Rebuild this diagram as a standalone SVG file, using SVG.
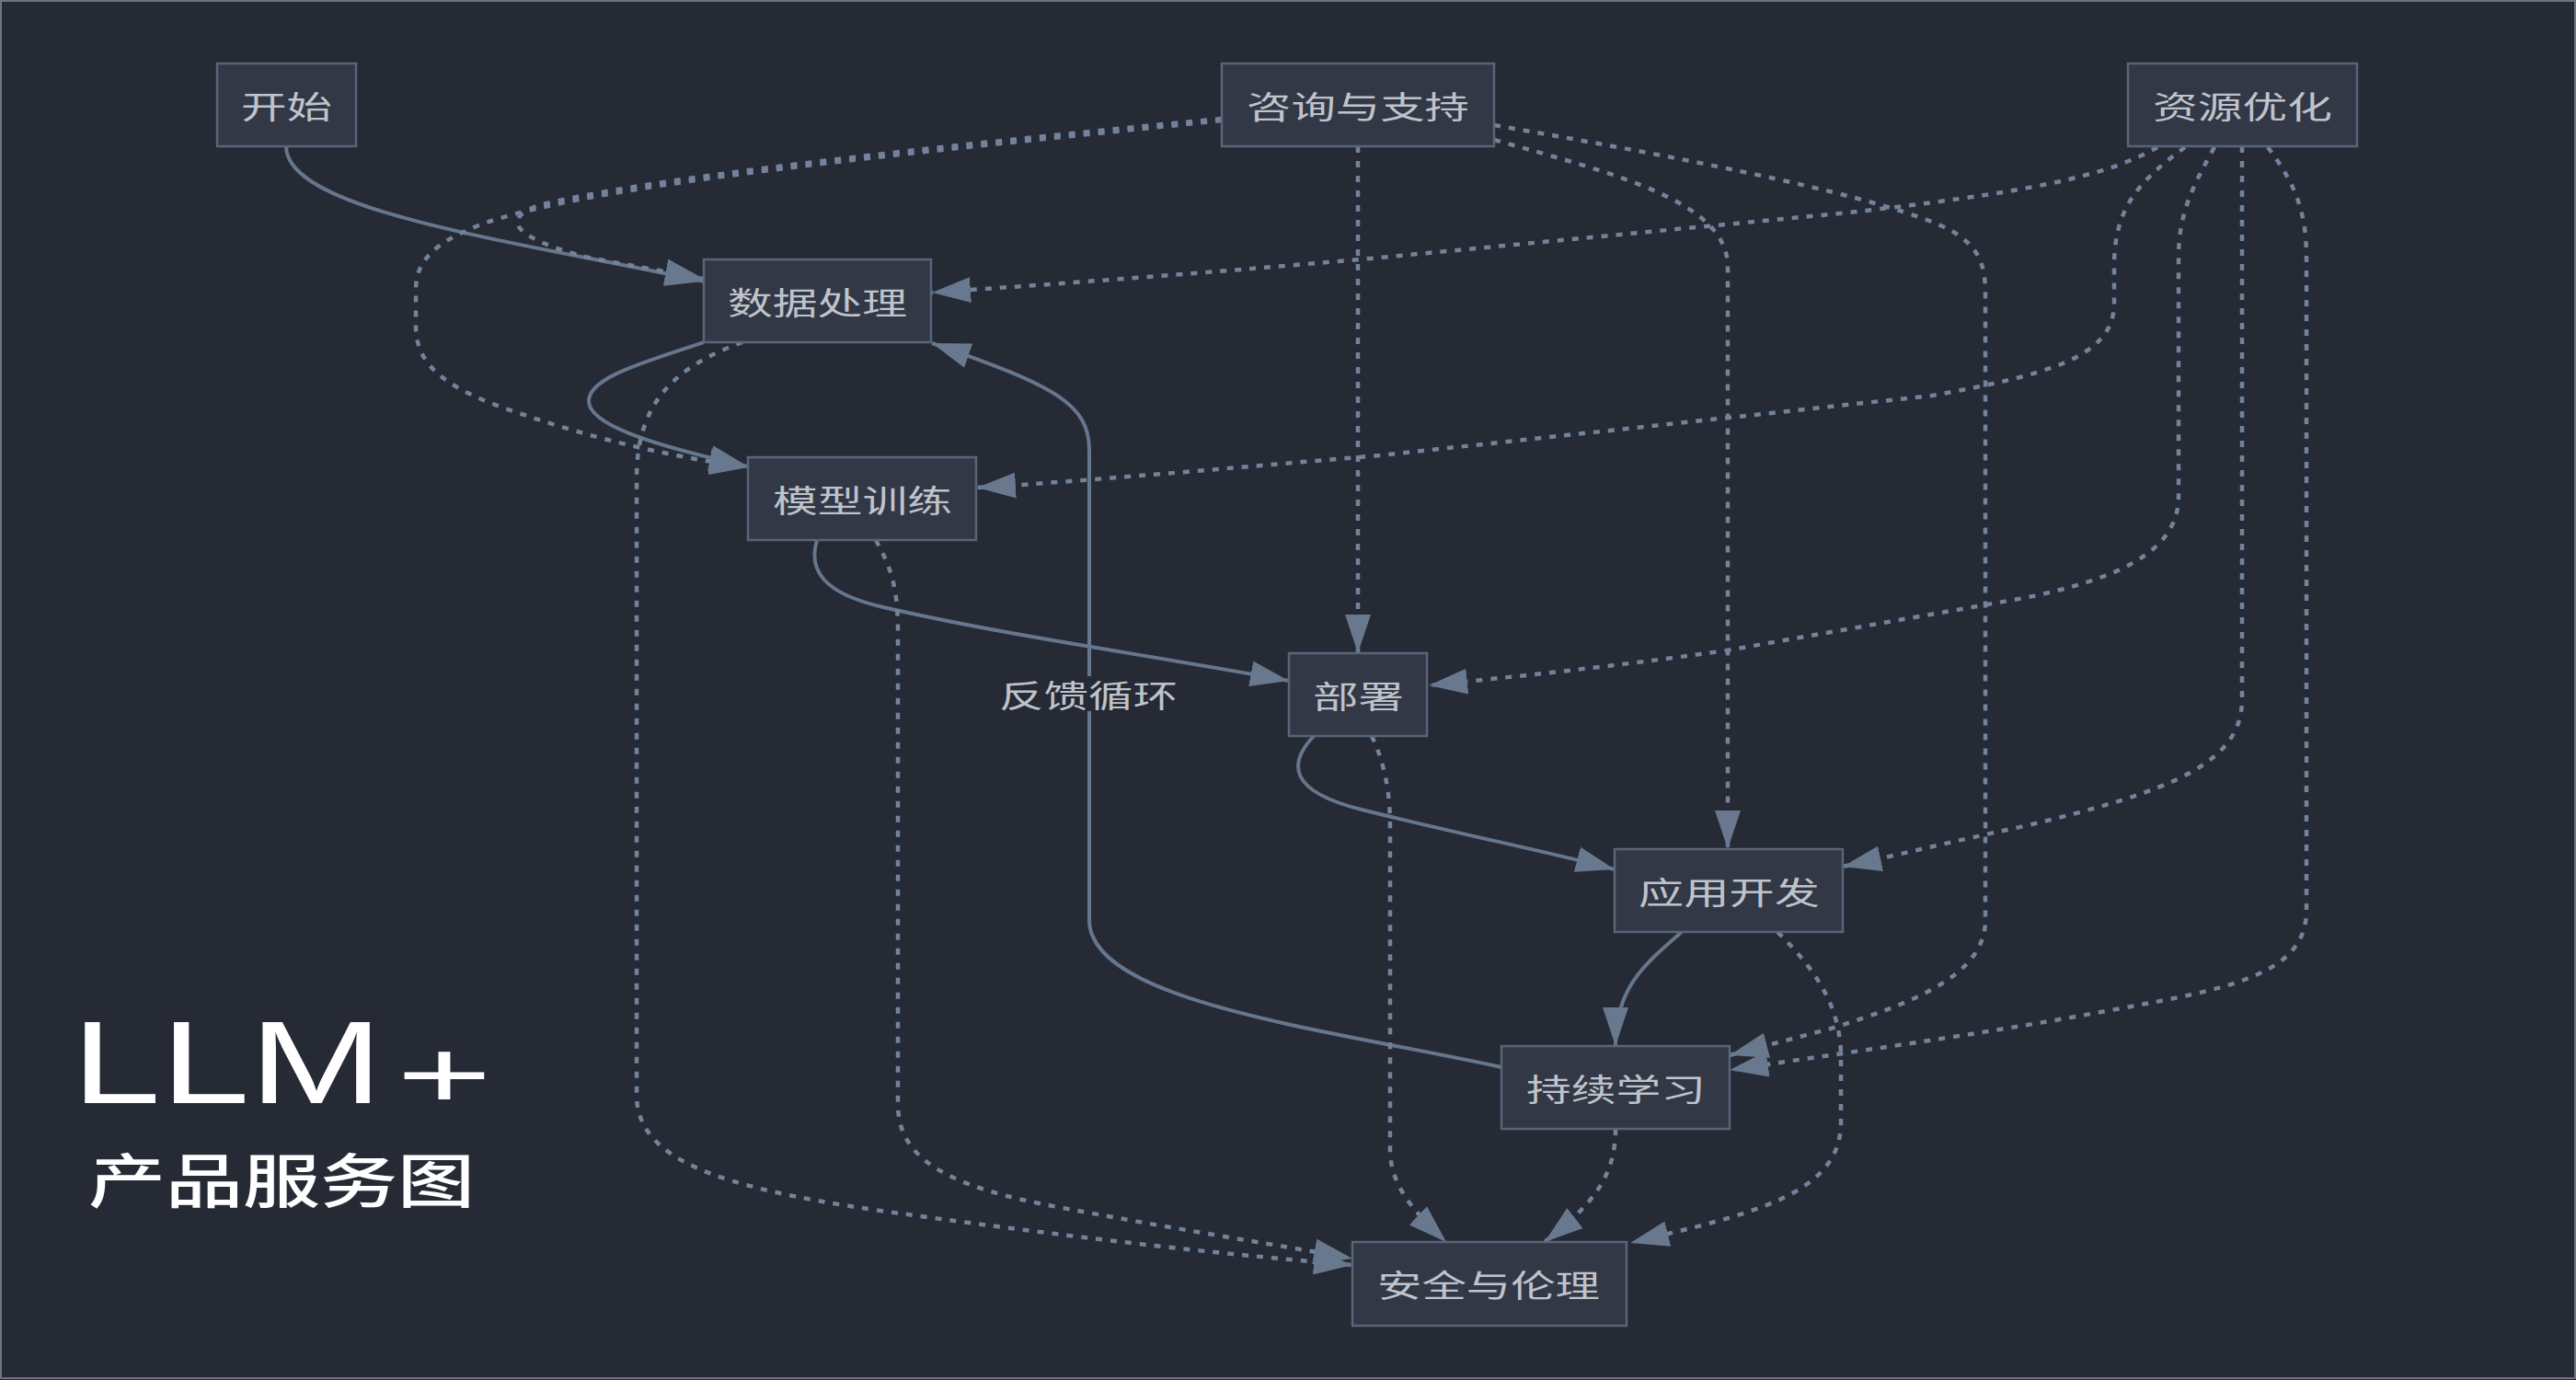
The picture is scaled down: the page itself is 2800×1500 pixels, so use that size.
<svg xmlns="http://www.w3.org/2000/svg" width="2800" height="1500" viewBox="0 0 2800 1500">
<style>
.bg{fill:#252a34}
.node rect{fill:#323845;stroke:#5a6579;stroke-width:2.5}
.node text,.lbl{font-family:"Noto Sans CJK SC","Noto Sans",sans-serif;font-size:34px;fill:#bfc3cb;dominant-baseline:central}
.e{fill:none;stroke:#66768d;stroke-width:4}
.d{stroke:#73839b;stroke-width:4.5;stroke-dasharray:7 9}
</style>
<defs>
<marker id="ah" viewBox="0 0 42 28" refX="42" refY="14" markerWidth="42" markerHeight="28" markerUnits="userSpaceOnUse" orient="auto">
<path d="M0,0 L42,14 L0,28 Z" fill="#68788f"/>
</marker>
</defs>
<rect class="bg" x="0" y="0" width="2800" height="1500"/>
<rect x="1" y="1" width="2798" height="1497" fill="none" stroke="#6f7480" stroke-width="2"/>

<g id="connectors">
<!-- solid -->
<path class="e" marker-end="url(#ah)" d="M311,159 C311,230 560,262 765,306"/>
<path class="e" marker-end="url(#ah)" d="M765,372 C700,394 640,410 640,436 C640,460 700,482 813,507"/>
<path class="e" marker-end="url(#ah)" d="M888,587 C878,620 895,645 960,660 C1100,692 1250,712 1401,740"/>
<path class="e" marker-end="url(#ah)" d="M1428,800 C1400,830 1400,860 1480,880 C1600,910 1680,925 1755,945"/>
<path class="e" marker-end="url(#ah)" d="M1828,1013 C1785,1050 1756,1075 1756,1137"/>
<path class="e" marker-end="url(#ah)" d="M1632,1160 C1450,1120 1184,1090 1184,1000 L1184,490 C1184,440 1150,420 1013,373"/>
<!-- dotted -->
<path class="e d" marker-end="url(#ah)" d="M1328,129 C1000,160 700,195 590,222 Q555,232 565,248 Q580,265 640,280 L765,303"/>
<path class="e d" marker-end="url(#ah)" d="M1328,131 C1000,165 640,200 520,245 C470,265 452,285 452,315 L452,355 C452,400 490,425 567,450 C640,475 720,495 813,508"/>
<path class="e d" marker-end="url(#ah)" d="M1476,159 L1476,710"/>
<path class="e d" marker-end="url(#ah)" d="M1624,152 C1760,190 1878,220 1878,290 L1878,923"/>
<path class="e d" marker-end="url(#ah)" d="M1624,136 C1850,175 2050,215 2120,250 C2150,268 2158,285 2158,320 L2158,1000 C2158,1060 2080,1090 1990,1118 L1880,1147"/>
<path class="e d" marker-end="url(#ah)" d="M2345,160 C2290,192 2200,210 2000,232 L1500,280 C1300,298 1100,312 1013,318"/>
<path class="e d" marker-end="url(#ah)" d="M2375,160 C2320,200 2298,230 2298,290 L2298,330 C2298,390 2220,408 2100,430 L1500,495 C1300,512 1150,525 1062,530"/>
<path class="e d" marker-end="url(#ah)" d="M2407,160 C2385,200 2368,230 2368,280 L2368,540 C2368,600 2300,630 2200,650 L1877,707 C1750,725 1650,735 1553,745"/>
<path class="e d" marker-end="url(#ah)" d="M2437,159 L2437,760 C2437,830 2360,860 2200,898 C2120,915 2060,930 2003,942"/>
<path class="e d" marker-end="url(#ah)" d="M2465,160 C2495,200 2507,230 2507,280 L2507,990 C2507,1060 2420,1075 2300,1097 C2150,1125 2000,1145 1880,1163"/>
<path class="e d" marker-end="url(#ah)" d="M807,372 C730,400 692,440 692,520 L692,1190 C692,1260 780,1290 950,1315 C1200,1350 1350,1365 1470,1375"/>
<path class="e d" marker-end="url(#ah)" d="M952,587 C970,620 976,640 976,690 L976,1200 C976,1260 1030,1290 1150,1312 C1300,1340 1400,1355 1470,1368"/>
<path class="e d" marker-end="url(#ah)" d="M1491,800 C1505,830 1511,860 1511,900 L1511,1250 C1511,1290 1540,1320 1572,1350"/>
<path class="e d" marker-end="url(#ah)" d="M1756,1227 C1756,1280 1730,1310 1679,1350"/>
<path class="e d" marker-end="url(#ah)" d="M1932,1013 C1980,1060 2001,1100 2001,1150 L2001,1220 C2001,1300 1900,1320 1772,1351"/>
<g id="edge-label">
<rect class="bg" x="1084" y="735" width="200" height="38"/>
<text class="lbl" x="1086" y="754" textLength="194" lengthAdjust="spacingAndGlyphs" fill="#b9bdc5">反馈循环</text>
</g>
</g>

<g id="n-start" class="node"><rect x="236" y="69" width="151" height="90"/><text x="262" y="114" textLength="99" lengthAdjust="spacingAndGlyphs">开始</text></g>
<g id="n-consult" class="node"><rect x="1328" y="69" width="296" height="90"/><text x="1355" y="114" textLength="242" lengthAdjust="spacingAndGlyphs">咨询与支持</text></g>
<g id="n-resource" class="node"><rect x="2313" y="69" width="249" height="90"/><text x="2340" y="114" textLength="195" lengthAdjust="spacingAndGlyphs">资源优化</text></g>
<g id="n-data" class="node"><rect x="765" y="282" width="247" height="90"/><text x="791" y="327" textLength="195" lengthAdjust="spacingAndGlyphs">数据处理</text></g>
<g id="n-model" class="node"><rect x="813" y="497" width="248" height="90"/><text x="840" y="542" textLength="195" lengthAdjust="spacingAndGlyphs">模型训练</text></g>
<g id="n-deploy" class="node"><rect x="1401" y="710" width="150" height="90"/><text x="1427" y="755" textLength="99" lengthAdjust="spacingAndGlyphs">部署</text></g>
<g id="n-app" class="node"><rect x="1755" y="923" width="248" height="90"/><text x="1781" y="968" textLength="197" lengthAdjust="spacingAndGlyphs">应用开发</text></g>
<g id="n-learn" class="node"><rect x="1632" y="1137" width="248" height="90"/><text x="1659" y="1182" textLength="195" lengthAdjust="spacingAndGlyphs">持续学习</text></g>
<g id="n-safety" class="node"><rect x="1470" y="1350" width="298" height="91"/><text x="1497" y="1395" textLength="242" lengthAdjust="spacingAndGlyphs">安全与伦理</text></g>

<g id="title" fill="#ffffff">
<text x="78" y="1199" font-family="'Liberation Sans',Arial,sans-serif" font-size="128.5"><tspan textLength="338" lengthAdjust="spacingAndGlyphs">LLM</tspan><tspan x="431" y="1204" font-size="106" textLength="104" lengthAdjust="spacingAndGlyphs">+</tspan></text>
<text x="96" y="1279" font-family="'Noto Sans CJK SC',sans-serif" font-size="64" font-weight="500" dominant-baseline="central" textLength="420" lengthAdjust="spacingAndGlyphs">产品服务图</text>
</g>
</svg>
